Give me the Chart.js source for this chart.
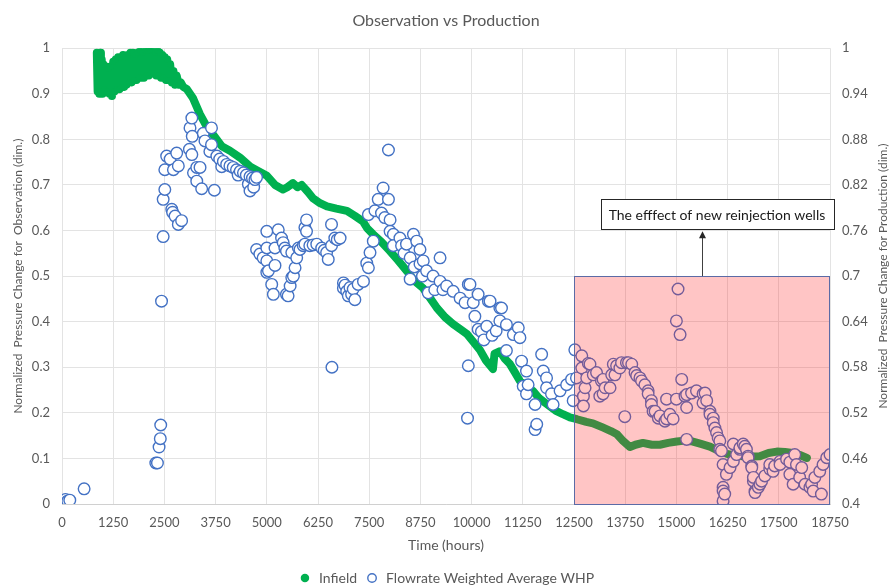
<!DOCTYPE html>
<html>
<head>
<meta charset="utf-8">
<script src="https://cdn.jsdelivr.net/npm/chart.js@4.4.1/dist/chart.umd.min.js"></script>
<style>
  html, body { margin: 0; padding: 0; background: #fff; }
</style>
</head>
<body>
<canvas id="myChart" width="892" height="588"></canvas>
<script>
// axis ticks
const hourTicks = [0, 1250, 2500, 3750, 5000, 6250, 7500, 8750, 10000, 11250, 12500, 13750, 15000, 16250, 17500, 18750];
const observationTicks = [0, 0.1, 0.2, 0.3, 0.4, 0.5, 0.6, 0.7, 0.8, 0.9, 1];
const productionTicks = [0.4, 0.46, 0.52, 0.58, 0.64, 0.7, 0.76, 0.82, 0.88, 0.94, 1];

// Infield (left axis, observation)
const infieldHours = [
  850, 870, 890, 910, 930, 950, 970, 990, 1010, 1040, 1070, 1100, 1130, 1160, 1190, 1220, 1250, 1280, 1310, 1340,
  1370, 1400, 1430, 1460, 1490, 1520, 1550, 1580, 1610, 1640, 1670, 1700, 1730, 1760, 1790, 1820, 1850, 1880, 1910, 1940,
  1970, 2000, 2030, 2060, 2090, 2120, 2150, 2180, 2210, 2240, 2270, 2300, 2330, 2360, 2390, 2420, 2450, 2480, 2510, 2540,
  2570, 2600, 2640, 2680, 2720, 2760, 2800, 2850, 2900, 2960, 3050,
  3200, 3370, 3520, 3690, 3900, 4100, 4345, 4600, 4800, 5004, 5200, 5395, 5500, 5639, 5750, 5850, 6000, 6127, 6300, 6469,
  6700, 6957, 7150, 7347, 7450, 7592, 7800, 8006, 8200, 8421, 8600, 8812, 9000, 9154, 9350, 9545, 9700, 9886, 10050, 10203,
  10350, 10521, 10560, 10692, 10800, 10936, 11050, 11180, 11350, 11497, 11650, 11839, 12050, 12229, 12400, 12571, 12800, 12962, 13200, 13400,
  13548, 13700, 13865, 14000, 14182, 14400, 14597, 14800, 15012, 15200, 15403, 15600, 15818, 16000, 16233, 16450, 16623, 16850, 17038, 17250,
  17453, 17650, 17844, 18000, 18185
];
const infieldValues = [
  0.99, 0.905, 0.985, 0.90, 0.99, 0.905, 0.975, 0.90, 0.965, 0.91, 0.96, 0.905, 0.955, 0.90, 0.96, 0.895, 0.97, 0.905, 0.975, 0.91,
  0.98, 0.91, 0.98, 0.915, 0.985, 0.915, 0.98, 0.92, 0.985, 0.925, 0.99, 0.925, 0.99, 0.93, 0.985, 0.93, 0.99, 0.935, 0.995, 0.935,
  0.99, 0.935, 0.995, 0.94, 0.995, 0.94, 0.995, 0.945, 0.995, 0.945, 0.99, 0.94, 0.995, 0.94, 0.99, 0.935, 0.985, 0.935, 0.98, 0.93,
  0.975, 0.93, 0.965, 0.925, 0.95, 0.92, 0.94, 0.92, 0.925, 0.915, 0.91,
  0.89, 0.855, 0.83, 0.81, 0.785, 0.775, 0.76, 0.74, 0.73, 0.72, 0.70, 0.69, 0.695, 0.704, 0.695, 0.70, 0.685, 0.671, 0.66, 0.653,
  0.648, 0.643, 0.632, 0.62, 0.605, 0.592, 0.575, 0.555, 0.535, 0.511, 0.49, 0.474, 0.45, 0.43, 0.41, 0.395, 0.385, 0.373, 0.355, 0.338,
  0.315, 0.296, 0.33, 0.335, 0.32, 0.307, 0.29, 0.27, 0.258, 0.248, 0.232, 0.219, 0.205, 0.197, 0.19, 0.186, 0.18, 0.177, 0.168, 0.16,
  0.153, 0.138, 0.125, 0.13, 0.134, 0.13, 0.13, 0.134, 0.137, 0.139, 0.137, 0.132, 0.126, 0.118, 0.11, 0.106, 0.105, 0.104, 0.105, 0.112,
  0.115, 0.114, 0.112, 0.108, 0.101
];

// Flowrate Weighted Average WHP (right axis, production)
const whpHours = [
  0, 40, 90, 140, 190, 540, 2290, 2330, 2370, 2400, 2410, 2430, 2470, 2470, 2510, 2510, 2555, 2640, 2680, 2700,
  2720, 2760, 2800, 2840, 2840, 2920, 3110, 3125, 3170, 3170, 3180, 3210, 3290, 3290, 3370, 3410, 3450, 3490, 3610, 3650,
  3650, 3720, 3780, 3850, 3900, 3940, 4020, 4100, 4180, 4260, 4300, 4350, 4430, 4500, 4550, 4590, 4590, 4650, 4680, 4710,
  4750, 4750, 4830, 4910, 5000, 5000, 5000, 5000, 5040, 5120, 5160, 5200, 5200, 5280, 5360, 5400, 5440, 5480, 5480, 5520,
  5570, 5610, 5610, 5650, 5690, 5730, 5770, 5810, 5890, 5930, 5930, 5970, 5970, 6050, 6130, 6220, 6340, 6400, 6460, 6500,
  6580, 6580, 6590, 6660, 6720, 6790, 6870, 6870, 6910, 6950, 6990, 7030, 7070, 7110, 7150, 7230, 7360, 7440, 7480, 7480,
  7520, 7600, 7640, 7720, 7800, 7840, 7880, 7970, 7970, 8010, 8010, 8090, 8090, 8250, 8290, 8350, 8410, 8500, 8500, 8580,
  8600, 8660, 8740, 8740, 8800, 8820, 8900, 8940, 9060, 9100, 9230, 9230, 9300, 9390, 9550, 9720, 9840, 9900, 9920, 9920,
  9960, 10040, 10080, 10160, 10160, 10240, 10300, 10370, 10410, 10450, 10500, 10600, 10690, 10690, 10730, 10850, 10850, 11020, 11140, 11180,
  11220, 11260, 11340, 11340, 11380, 11550, 11550, 11590, 11710, 11750, 11830, 11830, 11950, 11990, 12160, 12320, 12440, 12480, 12520, 12560,
  12690, 12690, 12730, 12730, 12770, 12810, 12850, 12890, 12970, 13050, 13130, 13170, 13210, 13210, 13260, 13380, 13420, 13460, 13500, 13540,
  13620, 13660, 13740, 13780, 13830, 13910, 13990, 14030, 14110, 14150, 14230, 14310, 14310, 14390, 14390, 14430, 14480, 14560, 14600, 14720,
  14760, 14760, 14840, 14920, 15000, 15000, 15040, 15090, 15130, 15210, 15250, 15250, 15250, 15370, 15490, 15650, 15650, 15700, 15740, 15820,
  15820, 15900, 15900, 15940, 15980, 16020, 16060, 16060, 16100, 16140, 16140, 16140, 16140, 16180, 16220, 16310, 16390, 16390, 16470, 16550,
  16550, 16630, 16670, 16710, 16750, 16750, 16840, 16840, 16880, 16880, 16920, 16920, 17000, 17040, 17080, 17160, 17280, 17280, 17360, 17400,
  17530, 17530, 17690, 17770, 17770, 17850, 17890, 17930, 18010, 18060, 18140, 18260, 18300, 18340, 18380, 18500, 18540, 18580, 18670, 18750
];
const whpValues = [
  0.400, 0.403, 0.406, 0.404, 0.405, 0.420, 0.454, 0.454, 0.475, 0.486, 0.504, 0.667, 0.752, 0.801, 0.814, 0.840, 0.858, 0.854, 0.788, 0.784,
  0.840, 0.779, 0.862, 0.845, 0.768, 0.773, 0.867, 0.895, 0.908, 0.860, 0.884, 0.836, 0.843, 0.825, 0.843, 0.815, 0.888, 0.878, 0.864, 0.895,
  0.873, 0.813, 0.858, 0.854, 0.844, 0.851, 0.847, 0.845, 0.843, 0.840, 0.833, 0.838, 0.836, 0.833, 0.821, 0.831, 0.812, 0.829, 0.817, 0.827,
  0.830, 0.735, 0.729, 0.724, 0.759, 0.737, 0.720, 0.705, 0.707, 0.689, 0.676, 0.737, 0.714, 0.761, 0.750, 0.744, 0.737, 0.733, 0.676, 0.674,
  0.687, 0.698, 0.731, 0.700, 0.711, 0.724, 0.737, 0.735, 0.740, 0.742, 0.764, 0.774, 0.759, 0.740, 0.741, 0.742, 0.737, 0.734, 0.731, 0.722,
  0.740, 0.768, 0.580, 0.750, 0.748, 0.750, 0.691, 0.684, 0.688, 0.680, 0.674, 0.685, 0.676, 0.683, 0.669, 0.689, 0.693, 0.717, 0.711, 0.781,
  0.731, 0.746, 0.786, 0.801, 0.783, 0.816, 0.777, 0.801, 0.866, 0.774, 0.759, 0.755, 0.740, 0.750, 0.740, 0.730, 0.742, 0.724, 0.696, 0.755,
  0.712, 0.746, 0.735, 0.716, 0.700, 0.720, 0.707, 0.678, 0.700, 0.682, 0.724, 0.693, 0.682, 0.687, 0.680, 0.671, 0.665, 0.513, 0.582, 0.689,
  0.689, 0.665, 0.647, 0.630, 0.676, 0.627, 0.616, 0.634, 0.667, 0.667, 0.622, 0.628, 0.658, 0.641, 0.658, 0.636, 0.602, 0.623, 0.632, 0.619,
  0.588, 0.555, 0.575, 0.545, 0.557, 0.531, 0.498, 0.505, 0.597, 0.575, 0.566, 0.553, 0.545, 0.531, 0.549, 0.557, 0.564, 0.536, 0.603, 0.566,
  0.595, 0.579, 0.542, 0.529, 0.553, 0.566, 0.585, 0.584, 0.570, 0.573, 0.542, 0.562, 0.564, 0.545, 0.553, 0.553, 0.570, 0.584, 0.570, 0.582,
  0.579, 0.586, 0.515, 0.586, 0.586, 0.584, 0.573, 0.569, 0.566, 0.562, 0.557, 0.549, 0.545, 0.536, 0.531, 0.522, 0.522, 0.513, 0.516, 0.509,
  0.538, 0.512, 0.518, 0.512, 0.538, 0.641, 0.683, 0.623, 0.564, 0.542, 0.527, 0.544, 0.485, 0.546, 0.549, 0.545, 0.533, 0.546, 0.536, 0.522,
  0.518, 0.513, 0.507, 0.500, 0.494, 0.487, 0.483, 0.472, 0.470, 0.452, 0.422, 0.417, 0.404, 0.413, 0.439, 0.448, 0.456, 0.479, 0.465, 0.472,
  0.474, 0.479, 0.476, 0.472, 0.463, 0.461, 0.450, 0.448, 0.430, 0.435, 0.417, 0.415, 0.422, 0.426, 0.430, 0.437, 0.446, 0.452, 0.443, 0.450,
  0.456, 0.452, 0.459, 0.455, 0.439, 0.426, 0.465, 0.452, 0.435, 0.448, 0.426, 0.422, 0.426, 0.417, 0.435, 0.443, 0.413, 0.452, 0.461, 0.465
];

// annotation: period after new reinjection wells
const reinjectionStart = 12500;
const reinjectionEnd = 18750;
const reinjectionTop = 0.5;
const noteText = 'The efffect of new reinjection wells';

const FONT = 'Lato, "Open Sans", sans-serif';
const GREY = '#595959';
const fmt = v => String(+Number(v).toFixed(2));

const reinjectionNote = {
    id: 'reinjectionNote',
    afterDatasetsDraw(chart) {
        const { ctx, scales: { x, y } } = chart;
        const left = x.getPixelForValue(reinjectionStart);
        const right = x.getPixelForValue(reinjectionEnd);
        const top = y.getPixelForValue(reinjectionTop);
        const bottom = y.getPixelForValue(0);
        ctx.save();
        ctx.fillStyle = 'rgba(255, 30, 30, 0.26)';
        ctx.fillRect(left, top, right - left, bottom - top);
        ctx.strokeStyle = '#5b6ba6';
        ctx.lineWidth = 1;
        ctx.strokeRect(Math.round(left) + 0.5, Math.round(top) + 0.5, Math.round(right - left) - 1, Math.round(bottom - top));
        ctx.restore();
    },
    afterDraw(chart) {
        const { ctx, scales: { x, y, y1 } } = chart;
        // arrow + text box
        const arrowX = Math.round(x.getPixelForValue(15620)) + 0.5;
        const arrowBottom = y.getPixelForValue(reinjectionTop);
        const boxBottom = y.getPixelForValue(0.603);
        const boxTop = y.getPixelForValue(0.669);
        ctx.save();
        ctx.font = '14px ' + FONT;
        const tw = ctx.measureText(noteText).width;
        const cx = x.getPixelForValue(15990);
        const bw = tw + 16;
        ctx.strokeStyle = '#404040';
        ctx.lineWidth = 1;
        ctx.beginPath();
        ctx.moveTo(arrowX, arrowBottom);
        ctx.lineTo(arrowX, boxBottom + 8);
        ctx.stroke();
        ctx.fillStyle = '#262626';
        ctx.beginPath();
        ctx.moveTo(arrowX, boxBottom + 2);
        ctx.lineTo(arrowX - 3.5, boxBottom + 9);
        ctx.lineTo(arrowX + 3.5, boxBottom + 9);
        ctx.closePath();
        ctx.fill();
        const bx = Math.round(cx - bw / 2) + 0.5;
        const by = Math.round(boxTop) + 0.5;
        const bh = Math.round(boxBottom - boxTop);
        ctx.fillStyle = '#ffffff';
        ctx.fillRect(bx, by, Math.round(bw), bh);
        ctx.strokeStyle = '#262626';
        ctx.strokeRect(bx, by, Math.round(bw), bh);
        ctx.fillStyle = '#1a1a1a';
        ctx.textAlign = 'center';
        ctx.textBaseline = 'middle';
        ctx.fillText(noteText, cx, by + bh / 2 + 1);

        // right axis title, reading bottom to top
        ctx.font = '12px ' + FONT;
        ctx.fillStyle = GREY;
        ctx.translate(chart.width - 9, (y1.top + y1.bottom) / 2);
        ctx.rotate(-Math.PI / 2);
        ctx.fillText('Normalized  Pressure Change for Production (dim.)', 0, 0);
        ctx.restore();
    }
};

const ctx = document.getElementById('myChart').getContext('2d');
new Chart(ctx, {
    type: 'scatter',
    data: {
        datasets: [{
            label: 'Infield',
            data: infieldHours.map((h, i) => ({ x: h, y: infieldValues[i] })),
            yAxisID: 'y',
            order: 1,
            showLine: true,
            borderColor: '#00b050',
            borderWidth: 8,
            borderJoinStyle: 'round',
            borderCapStyle: 'round',
            backgroundColor: '#00b050',
            pointRadius: 3,
            pointBorderWidth: 0,
            pointBackgroundColor: '#00b050'
        }, {
            label: 'Flowrate Weighted Average WHP',
            data: whpHours.map((h, i) => ({ x: h, y: whpValues[i] })),
            yAxisID: 'y1',
            order: 0,
            showLine: false,
            borderColor: '#4472c4',
            backgroundColor: '#ffffff',
            pointRadius: 5.8,
            pointBorderWidth: 1.4,
            pointBorderColor: '#4472c4',
            pointBackgroundColor: '#ffffff'
        }]
    },
    options: {
        responsive: false,
        animation: false,
        devicePixelRatio: 1,
        events: [],
        layout: { padding: { top: 0, left: 0, right: 0, bottom: -7 } },
        plugins: {
            title: {
                display: true,
                text: 'Observation vs Production',
                color: GREY,
                font: { family: FONT, size: 16, weight: 'normal' },
                padding: { top: 11, bottom: 18 }
            },
            legend: {
                position: 'bottom',
                labels: {
                    usePointStyle: true,
                    boxHeight: 6,
                    color: GREY,
                    font: { family: FONT, size: 14 },
                    padding: 8,
                    sort: (a, b) => a.datasetIndex - b.datasetIndex
                }
            },
            tooltip: { enabled: false }
        },
        scales: {
            x: {
                type: 'linear',
                min: 0,
                max: 18750,
                afterBuildTicks: axis => { axis.ticks = hourTicks.map(v => ({ value: v })); },
                afterFit: axis => { axis.height = 59; },
                grid: { color: '#e3e3e3', drawTicks: false },
                border: { color: '#d0d0d0' },
                ticks: { color: GREY, font: { family: FONT, size: 13 }, padding: 11, maxRotation: 0, autoSkip: false, callback: fmt },
                title: { display: true, text: 'Time (hours)', color: GREY, font: { family: FONT, size: 14 }, padding: { top: 0, bottom: 9 } }
            },
            y: {
                position: 'left',
                min: 0,
                max: 1,
                afterBuildTicks: axis => { axis.ticks = observationTicks.map(v => ({ value: v })); },
                afterFit: axis => { axis.width = 62; },
                grid: { color: '#e3e3e3', drawTicks: false },
                border: { display: false },
                ticks: { color: GREY, font: { family: FONT, size: 13 }, padding: 12, callback: fmt },
                title: { display: true, text: 'Normalized  Pressure Change for  Observation (dim.)', color: GREY, font: { family: FONT, size: 12 }, padding: { top: 11, bottom: 0 } }
            },
            y1: {
                position: 'right',
                min: 0.4,
                max: 1,
                afterBuildTicks: axis => { axis.ticks = productionTicks.map(v => ({ value: v })); },
                afterFit: axis => { axis.width = 62; },
                grid: { display: false, drawTicks: false },
                border: { display: false },
                ticks: { color: GREY, font: { family: FONT, size: 13 }, padding: 12, callback: fmt }
            }
        }
    },
    plugins: [reinjectionNote]
});
</script>
</body>
</html>
